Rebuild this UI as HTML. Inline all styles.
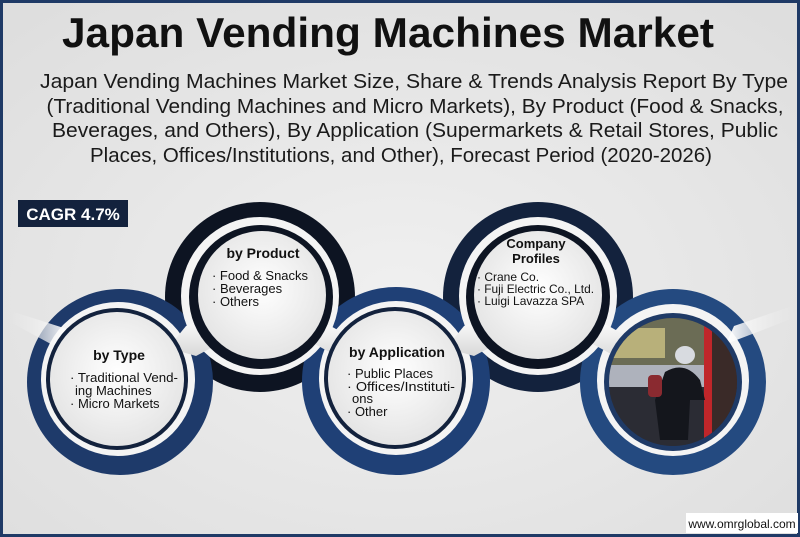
<!DOCTYPE html>
<html><head><meta charset="utf-8"><style>
html,body{margin:0;padding:0;background:#e8e8e8;}
svg{display:block;font-family:"Liberation Sans",sans-serif;}
</style></head><body>
<svg width="800" height="537" viewBox="0 0 800 537" xmlns="http://www.w3.org/2000/svg">
<defs>
<radialGradient id="bg" cx="50%" cy="55%" r="70%"><stop offset="0" stop-color="#f0f0f0"/><stop offset="1" stop-color="#dedede"/></radialGradient>
<radialGradient id="inner" cx="50%" cy="45%" r="60%"><stop offset="0" stop-color="#ffffff"/><stop offset="1" stop-color="#e2e2e2"/></radialGradient>
<linearGradient id="bar" x1="0" y1="0" x2="0" y2="1"><stop offset="0" stop-color="#ffffff"/><stop offset="1" stop-color="#d8d8d8"/></linearGradient>
<linearGradient id="bar2" x1="0" y1="0" x2="1" y2="0"><stop offset="0" stop-color="#e6e6e6" stop-opacity="0.3"/><stop offset="1" stop-color="#ffffff"/></linearGradient>
<linearGradient id="bar3" x1="0" y1="0" x2="1" y2="0"><stop offset="0" stop-color="#ffffff"/><stop offset="1" stop-color="#e6e6e6" stop-opacity="0.3"/></linearGradient>
<clipPath id="ph"><circle cx="673" cy="382" r="64"/></clipPath>
</defs>
<rect width="800" height="537" fill="url(#bg)"/>
<rect x="1.5" y="1.5" width="797" height="534" fill="none" stroke="#1f3a66" stroke-width="3"/>

<text x="388" y="47" font-size="42" font-weight="bold" text-anchor="middle" textLength="652" lengthAdjust="spacingAndGlyphs" fill="#111">Japan Vending Machines Market</text>
<g font-size="20" fill="#1a1a1a" text-anchor="middle">
<text x="414" y="88" textLength="748" lengthAdjust="spacingAndGlyphs">Japan Vending Machines Market Size, Share &amp; Trends Analysis Report By Type</text>
<text x="415" y="113" textLength="737" lengthAdjust="spacingAndGlyphs">(Traditional Vending Machines and Micro Markets), By Product (Food &amp; Snacks,</text>
<text x="415" y="137" textLength="726" lengthAdjust="spacingAndGlyphs">Beverages, and Others), By Application (Supermarkets &amp; Retail Stores, Public</text>
<text x="401" y="162" textLength="622" lengthAdjust="spacingAndGlyphs">Places, Offices/Institutions, and Other), Forecast Period (2020-2026)</text>
</g>

<rect x="18" y="200" width="110" height="27" fill="#13223d"/>
<text x="73" y="220" font-size="17" font-weight="bold" fill="#fff" text-anchor="middle">CAGR 4.7%</text>

<!-- back outer rings -->
<circle cx="260" cy="297" r="95" fill="#0d1422"/>
<circle cx="538" cy="297" r="95" fill="#13223d"/>
<!-- front outer rings -->
<circle cx="120" cy="382" r="93" fill="#1e3a6a"/>
<circle cx="396" cy="381" r="94" fill="#1f4076"/>
<circle cx="673" cy="382" r="93" fill="#244a80"/>

<!-- light rings -->
<circle cx="118" cy="379" r="77" fill="#f4f4f4"/>
<circle cx="260" cy="296" r="79" fill="#f4f4f4"/>
<circle cx="396" cy="378" r="77" fill="#f4f4f4"/>
<circle cx="538" cy="296" r="79" fill="#f4f4f4"/>
<circle cx="673" cy="380" r="76" fill="#f4f4f4"/>

<!-- connector bars -->
<polygon points="10,322 14,312 70,330 62,350" fill="url(#bar2)"/>
<polygon points="168,348 186,326 214,316 226,340 196,356" fill="url(#bar)"/>
<polygon points="300,336 316,318 356,340 344,360" fill="url(#bar)"/>
<polygon points="446,348 464,326 492,316 504,340 474,356" fill="url(#bar)"/>
<polygon points="578,336 594,318 634,340 622,360" fill="url(#bar)"/>
<polygon points="726,344 734,326 792,306 794,318" fill="url(#bar3)"/>

<!-- dark rings + inner -->
<circle cx="117" cy="379" r="71" fill="#13223d"/>
<circle cx="117" cy="379" r="67" fill="url(#inner)"/>
<circle cx="261" cy="297" r="72" fill="#0d1422"/>
<circle cx="262" cy="295" r="64" fill="url(#inner)"/>
<circle cx="395" cy="378" r="71" fill="#13223d"/>
<circle cx="395" cy="378" r="67" fill="url(#inner)"/>
<circle cx="538" cy="297" r="72" fill="#0d1422"/>
<circle cx="538" cy="295" r="64" fill="url(#inner)"/>
<circle cx="673" cy="382" r="69" fill="#1f3a66"/>
<g clip-path="url(#ph)">
<rect x="600" y="310" width="150" height="150" fill="#2a2e3a"/>
<rect x="600" y="318" width="110" height="50" fill="#6b6c55"/>
<rect x="605" y="328" width="60" height="30" fill="#b8b07a"/>
<rect x="600" y="365" width="110" height="22" fill="#aeb2bc"/>
<rect x="600" y="387" width="150" height="73" fill="#2b2c34"/>
<rect x="704" y="318" width="8" height="130" fill="#c0262a"/>
<rect x="712" y="318" width="40" height="130" fill="#3a2a28"/>
<ellipse cx="685" cy="355" rx="10" ry="9" fill="#d8dbe0"/>
<path d="M665 372 Q685 360 700 380 L705 400 L690 400 L688 440 L660 440 L655 400 Z" fill="#14161c"/>
<rect x="648" y="375" width="14" height="22" rx="4" fill="#8a2a30"/>
</g>

<!-- texts -->
<g fill="#111" text-anchor="middle" font-weight="bold">
<text x="119" y="360" font-size="14">by Type</text>
<text x="263" y="258" font-size="14">by Product</text>
<text x="397" y="357" font-size="14">by Application</text>
<text x="536" y="248" font-size="13">Company</text>
<text x="536" y="263" font-size="13">Profiles</text>
</g>
<g fill="#111" font-size="13">
<text x="70" y="382" textLength="108" lengthAdjust="spacingAndGlyphs">· Traditional Vend-</text>
<text x="75" y="395">ing Machines</text>
<text x="70" y="408">· Micro Markets</text>
<text x="212" y="280" textLength="96" lengthAdjust="spacingAndGlyphs">· Food &amp; Snacks</text>
<text x="212" y="293">· Beverages</text>
<text x="212" y="306">· Others</text>
<text x="347" y="378">· Public Places</text>
<text x="347" y="391" textLength="108" lengthAdjust="spacingAndGlyphs">· Offices/Instituti-</text>
<text x="352" y="403">ons</text>
<text x="347" y="416">· Other</text>
<g font-size="12">
<text x="477" y="281">· Crane Co.</text>
<text x="477" y="293" textLength="117" lengthAdjust="spacingAndGlyphs">· Fuji Electric Co., Ltd.</text>
<text x="477" y="305">· Luigi Lavazza SPA</text>
</g>
</g>

<rect x="686" y="513" width="112" height="20" fill="#ffffff"/>
<text x="742" y="528" font-size="12" fill="#111" text-anchor="middle">www.omrglobal.com</text>
</svg>
</body></html>
